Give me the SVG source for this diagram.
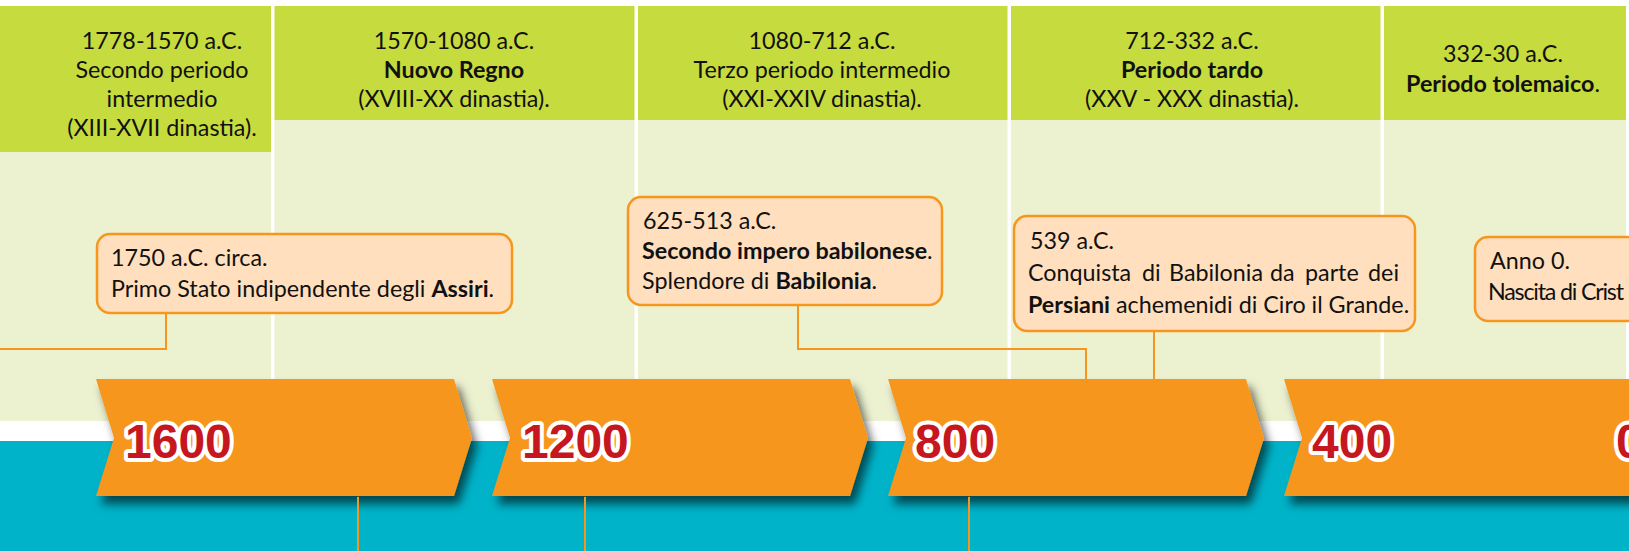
<svg xmlns="http://www.w3.org/2000/svg" width="1629" height="551" viewBox="0 0 1629 551">
<defs>
<style>
.t{font-family:Lato,"Liberation Sans",sans-serif;font-size:23.3px;fill:#111}
.c{text-anchor:middle}
.b{font-weight:bold}
.hdr{fill:#C6DB3D}
.bdy{fill:#ECF2D0}
.box{fill:#FFDFBD;stroke:#F7961F;stroke-width:2.5}
.conn{fill:none;stroke:#F7961F;stroke-width:2}
.chev{fill:#F7961F}
.yr{font-family:"Liberation Sans",Arial,sans-serif;font-weight:bold;font-size:48px;fill:#C6161E;stroke:#fff;stroke-width:8;paint-order:stroke;stroke-linejoin:round}
</style>
<filter id="sh" x="-10%" y="-20%" width="130%" height="170%">
<feDropShadow dx="5" dy="8" stdDeviation="5" flood-color="#000" flood-opacity="0.6"/>
</filter>
</defs>
<rect x="0" y="0" width="1629" height="551" fill="#fff"/>
<rect x="0" y="441" width="1629" height="110" fill="#00B3C9"/>

<g id="col1">
<rect class="hdr" x="0" y="6" width="271" height="146"/>
<rect class="bdy" x="0" y="152" width="271" height="269"/>
<text class="t c" x="162" y="49">1778-1570 a.C.</text>
<text class="t c" x="162" y="78">Secondo periodo</text>
<text class="t c" x="162" y="107">intermedio</text>
<text class="t c" x="162" y="136">(XIII-XVII dinastia).</text>
</g>
<g id="col2">
<rect class="hdr" x="274.5" y="6" width="360" height="114"/>
<rect class="bdy" x="274.5" y="120" width="360" height="301"/>
<text class="t c" x="454" y="49">1570-1080 a.C.</text>
<text class="t c b" x="454" y="78">Nuovo Regno</text>
<text class="t c" x="454" y="107">(XVIII-XX dinastia).</text>
</g>
<g id="col3">
<rect class="hdr" x="638" y="6" width="369.5" height="114"/>
<rect class="bdy" x="638" y="120" width="369.5" height="301"/>
<text class="t c" x="822" y="49">1080-712 a.C.</text>
<text class="t c" x="822" y="78">Terzo periodo intermedio</text>
<text class="t c" x="822" y="107">(XXI-XXIV dinastia).</text>
</g>
<g id="col4">
<rect class="hdr" x="1011" y="6" width="369.5" height="114"/>
<rect class="bdy" x="1011" y="120" width="369.5" height="301"/>
<text class="t c" x="1192" y="49">712-332 a.C.</text>
<text class="t c b" x="1192" y="78">Periodo tardo</text>
<text class="t c" x="1192" y="107">(XXV - XXX dinastia).</text>
</g>
<g id="col5">
<rect class="hdr" x="1384" y="6" width="242" height="114"/>
<rect class="bdy" x="1384" y="120" width="242" height="301"/>
<text class="t c" x="1503" y="62">332-30 a.C.</text>
<text class="t c" x="1503" y="92"><tspan class="b">Periodo tolemaico</tspan>.</text>
</g>

<g id="connectors">
<path class="conn" d="M166 313 V349 H0"/>
<path class="conn" d="M798 305 V349 H1086 V379"/>
<path class="conn" d="M1154 331 V379"/>
<path class="conn" d="M358 496 V551"/>
<path class="conn" d="M585 496 V551"/>
<path class="conn" d="M969 496 V551"/>
</g>

<g id="box1">
<rect class="box" x="97" y="234" width="415" height="79" rx="13"/>
<text class="t" x="111" y="266">1750 a.C. circa.</text>
<text class="t" x="111" y="297">Primo Stato indipendente degli <tspan class="b">Assiri</tspan>.</text>
</g>
<g id="box2">
<rect class="box" x="628" y="197" width="314" height="108" rx="13"/>
<text class="t" x="643" y="229">625-513 a.C.</text>
<text class="t" x="642" y="259"><tspan class="b">Secondo impero babilonese</tspan>.</text>
<text class="t" x="642" y="289">Splendore di <tspan class="b">Babilonia</tspan>.</text>
</g>
<g id="box3">
<rect class="box" x="1014" y="216" width="401" height="115" rx="13"/>
<text class="t" x="1030" y="249">539 a.C.</text>
<text class="t" y="281"><tspan x="1028">Conquista</tspan><tspan x="1142">di</tspan><tspan x="1169">Babilonia</tspan><tspan x="1270">da</tspan><tspan x="1305">parte</tspan><tspan x="1399" text-anchor="end">dei</tspan></text>
<text class="t" x="1028" y="313"><tspan class="b">Persiani</tspan> achemenidi di Ciro il Grande.</text>
</g>
<g id="box4">
<rect class="box" x="1475" y="237" width="170" height="84" rx="13"/>
<text class="t" x="1490" y="269">Anno 0.</text>
<text class="t" x="1488" y="300" textLength="136" lengthAdjust="spacing">Nascita di Crist</text>
</g>

<g id="chev1">
<path class="chev" filter="url(#sh)" d="M96 379 H454 L472 438 L454 496 H96 L114 438 Z"/>
<text class="yr" x="125" y="458">1600</text>
</g>
<g id="chev2">
<path class="chev" filter="url(#sh)" d="M492 379 H850 L868 438 L850 496 H492 L510 438 Z"/>
<text class="yr" x="522" y="458">1200</text>
</g>
<g id="chev3">
<path class="chev" filter="url(#sh)" d="M888 379 H1246 L1264 438 L1246 496 H888 L906 438 Z"/>
<text class="yr" x="915" y="458">800</text>
</g>
<g id="chev4">
<path class="chev" filter="url(#sh)" d="M1284 379 H1660 V496 H1284 L1302 438 Z"/>
<text class="yr" x="1312" y="458">400</text>
<text class="yr" x="1616" y="458">0</text>
</g>
<g id="bottom-lines">
<path class="conn" d="M358 497 V551"/>
<path class="conn" d="M585 497 V551"/>
<path class="conn" d="M969 497 V551"/>
</g>
</svg>
